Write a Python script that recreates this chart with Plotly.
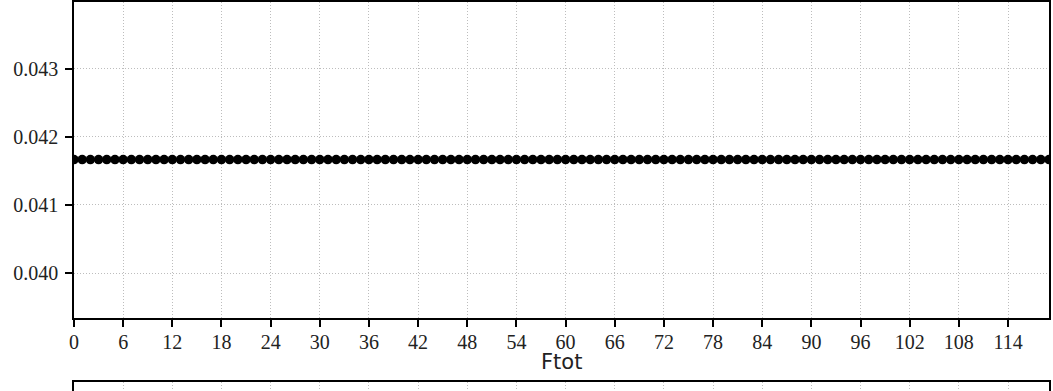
import plotly.graph_objects as go

# Constant per-step value over the 120 time steps
steps = list(range(120))
values = [1 / 24] * 120

x_ticks = list(range(0, 120, 6))
y_ticks = [0.040, 0.041, 0.042, 0.043]
y_tick_labels = ["0.040", "0.041", "0.042", "0.043"]
y_limits = [0.03934, 0.04398]

W, H = 1053, 391
top_px, left_px, right_px = 2, 74, 4
plot_h = H - top_px
top_bottom_px = 318
ftot_top_px = 382
ftot_frac = (H - ftot_top_px) / plot_h

fig = go.Figure()
fig.add_trace(go.Scatter(
    x=steps, y=values, mode="lines+markers",
    line=dict(color="black", width=2),
    marker=dict(color="black", size=9.5),
    xaxis="x", yaxis="y", cliponaxis=True, showlegend=False,
))
# Second panel (Ftot); only its top edge falls inside the page
fig.add_trace(go.Scatter(
    x=[None], y=[None], xaxis="x2", yaxis="y2", showlegend=False,
))

grid = dict(showgrid=True, gridcolor="#bdbdbd", griddash="1px,2px", gridwidth=1)
frame = dict(showline=True, linecolor="black", linewidth=1.5, mirror=True, zeroline=False)
tickfont = dict(family="Liberation Serif", size=20, color="#222222")

fig.update_layout(
    width=W, height=H,
    margin=dict(l=left_px, r=right_px, t=top_px, b=0),
    plot_bgcolor="white", paper_bgcolor="white",
    xaxis=dict(
        domain=[0, 1], anchor="y", range=[0, 119],
        tickvals=x_ticks, ticks="outside", ticklen=7, tickwidth=1.5, tickcolor="black",
        tickfont=tickfont, ticklabelstandoff=-2, **grid, **frame,
    ),
    yaxis=dict(
        domain=[(H - top_bottom_px) / plot_h, 1], anchor="x",
        range=y_limits,
        tickvals=y_ticks, ticktext=y_tick_labels,
        ticks="outside", ticklen=7, tickwidth=1.5, tickcolor="black",
        tickfont=tickfont, ticklabelstandoff=3, **grid, **frame,
    ),
    xaxis2=dict(
        domain=[0, 1], anchor="y2", range=[0, 119], side="top",
        tickvals=x_ticks, showticklabels=False, ticks="",
        showline=True, linecolor="black", linewidth=1.5, mirror=False,
        zeroline=False, **grid,
    ),
    yaxis2=dict(
        domain=[0, ftot_frac], anchor="x2",
        range=[0, 1], showticklabels=False, ticks="", showgrid=False,
        showline=True, linecolor="black", linewidth=1.5, mirror=True, zeroline=False,
    ),
    annotations=[dict(
        text="Ftot", xref="paper", yref="paper",
        x=0.5, y=ftot_frac, xanchor="center", yanchor="bottom",
        yshift=6, showarrow=False,
        font=dict(family="DejaVu Sans", size=21, color="#222222"),
    )],
)

fig.write_html("out.html")
